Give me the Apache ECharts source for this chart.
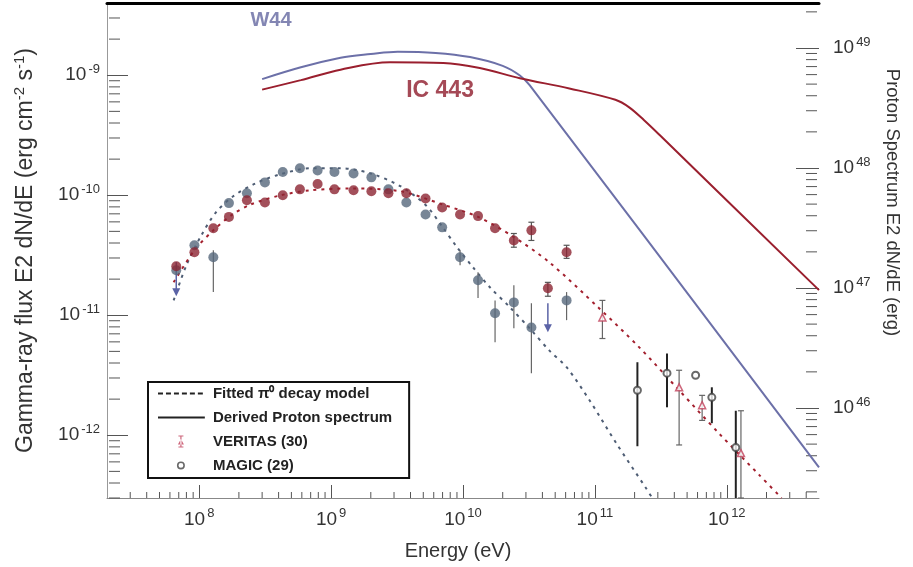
<!DOCTYPE html>
<html><head><meta charset="utf-8">
<script src="https://cdn.jsdelivr.net/npm/echarts@6/dist/echarts.min.js"></script>
<style>html,body{margin:0;padding:0;background:#fff}#c{width:913px;height:567px}</style>
</head><body><div id="c"></div>
<script>
// ---------------- data ----------------
// Derived proton spectra (right axis, erg) versus energy (eV)
const w44ProtonE   = [3.0e8, 5.9e8, 1.18e9, 2.0e9, 3.2e9, 6.2e9, 1.13e10, 2.0e10, 2.7e10, 3.2e10, 5.0e12];
const w44ProtonF   = [5.5e48, 6.9e48, 8.3e48, 8.9e48, 9.3e48, 9.1e48, 8.4e48, 7.1e48, 5.9e48, 4.9e48, 3.2e45];
const ic443ProtonE = [3.0e8, 5.9e8, 1.18e9, 2.8e9, 7.1e9, 1.34e10, 2.7e10, 6.4e10, 1.43e11, 1.82e11, 2.36e11, 3.07e11, 5.0e12];
const ic443ProtonF = [4.5e48, 5.4e48, 6.6e48, 7.6e48, 7.5e48, 6.8e48, 5.6e48, 4.6e48, 3.7e48, 3.2e48, 2.5e48, 1.9e48, 9.6e46];

// Fermi-LAT gamma-ray spectra (left axis, erg cm^-2 s^-1)
const latE      = [6.7e7, 9.2e7, 1.28e8, 1.68e8, 2.3e8, 3.15e8, 4.3e8, 5.8e8, 7.9e8, 1.06e9, 1.48e9, 2.02e9, 2.72e9, 3.72e9, 5.2e9, 6.95e9, 9.5e9, 1.3e10, 1.75e10, 2.43e10, 3.3e10, 4.4e10, 6.1e10];
const w44Flux   = [2.37e-11, 3.83e-11, 3.04e-11, 8.6e-11, 1.04e-10, 1.28e-10, 1.56e-10, 1.68e-10, 1.61e-10, 1.56e-10, 1.52e-10, 1.41e-10, 1.12e-10, 8.7e-11, 6.9e-11, 5.4e-11, 3.04e-11, 1.96e-11, 1.04e-11, 1.28e-11, 7.9e-12, null, 1.33e-11];
const ic443Flux = [2.56e-11, 3.35e-11, 5.3e-11, 6.6e-11, 9.1e-11, 8.7e-11, 1.0e-10, 1.12e-10, 1.24e-10, 1.12e-10, 1.1e-10, 1.08e-10, 1.04e-10, 1.04e-10, 9.4e-11, 7.9e-11, 6.9e-11, 6.7e-11, 5.3e-11, 4.2e-11, 5.1e-11, 1.68e-11, 3.35e-11];

// visible error bars  [energy, low, high]
const w44ErrE  = [1.28e8, 9.5e9, 1.3e10, 1.75e10, 2.43e10, 3.3e10, 6.1e10];
const w44ErrLo = [1.56e-11, 2.61e-11, 1.39e-11, 5.96e-12, 7.8e-12, 3.29e-12, 9.1e-12];
const w44ErrHi = [3.48e-11, 3.48e-11, 2.28e-11, 1.33e-11, 1.78e-11, 1.26e-11, 1.56e-11];
const ic443ErrE  = [2.43e10, 3.3e10, 4.4e10, 6.1e10];
const ic443ErrLo = [3.69e-11, 4.2e-11, 1.44e-11, 2.98e-11];
const ic443ErrHi = [4.8e-11, 5.96e-11, 1.88e-11, 3.83e-11];
// W44 upper limits (arrows): energy, start, tip
const w44UlE    = [6.7e7, 4.4e10];
const w44UlFrom = [2.77e-11, 1.26e-11];
const w44UlTo   = [1.44e-11, 7.2e-12];

// Fitted pi0-decay models
const w44ModelE   = [6.4e7, 8.0e7, 1.04e8, 1.34e8, 1.81e8, 2.69e8, 4.16e8, 7.0e8, 1.18e9, 1.99e9, 3.35e9, 5.2e9, 6.95e9, 9.0e9, 1.19e10, 1.6e10, 2.26e10, 3.3e10, 4.5e10, 6.1e10, 9.1e10, 1.45e11, 2.45e11, 2.72e11];
const w44ModelF   = [1.33e-11, 2.61e-11, 4.65e-11, 7.2e-11, 9.8e-11, 1.26e-10, 1.5e-10, 1.68e-10, 1.68e-10, 1.52e-10, 1.19e-10, 8.3e-11, 5.5e-11, 3.69e-11, 2.51e-11, 1.71e-11, 1.17e-11, 7.5e-12, 5.1e-12, 3.69e-12, 1.96e-12, 8.6e-13, 3.6e-13, 3.0e-13];
const ic443ModelE = [6.4e7, 9.2e7, 1.28e8, 1.75e8, 2.47e8, 4.16e8, 7.0e8, 1.4e9, 3.35e9, 6.95e9, 1.3e10, 2.38e10, 4.5e10, 1.08e11, 2.17e11, 4.35e11, 8.7e11, 1.75e12, 2.6e12];
const ic443ModelF = [1.88e-11, 3.48e-11, 5.1e-11, 6.8e-11, 8.4e-11, 1.0e-10, 1.1e-10, 1.14e-10, 1.08e-10, 8.4e-11, 6.6e-11, 4.55e-11, 2.77e-11, 1.14e-11, 5.4e-12, 2.37e-12, 1.04e-12, 4.7e-13, 3.0e-13];

// TeV data for IC 443
const veritasE  = [1.14e11, 4.35e11, 6.5e11, 1.28e12];
const veritasF  = [9.6e-12, 2.51e-12, 1.78e-12, 7.1e-13];
const veritasLo = [6.4e-12, 8.3e-13, 1.33e-12, 3.0e-13];
const veritasHi = [1.33e-11, 3.48e-12, 2.15e-12, 1.6e-12];
const magicE  = [2.1e11, 3.52e11, 5.8e11, 7.7e11, 1.17e12];
const magicF  = [2.37e-12, 3.29e-12, 3.16e-12, 2.07e-12, 7.9e-13];
const magicLo = [8.1e-13, 1.71e-12, 3.16e-12, 1.26e-12, 3.0e-13];
const magicHi = [4.06e-12, 4.8e-12, 3.16e-12, 2.51e-12, 1.6e-12];

// text annotations (energy, proton-axis value)
const annoText = ['W44', 'IC 443'];
const annoE    = [3.5e8, 6.7e9];
const annoP    = [1.70e49, 4.40e48];

// legend entries
const legendNames = ['Fitted π⁰ decay model', 'Derived Proton spectrum', 'VERITAS (30)', 'MAGIC (29)'];

// axis ranges
const xMin = 2e7, xMax = 5e12;
const yMin = 3e-13, yMax = 4e-9;
const y2Min = 1.778e45, y2Max = 2.371e49;

// ---------------- chart ----------------
const FONT = 'Liberation Sans, Arial, sans-serif';
const C_W44L = '#6c70a8', C_ICL = '#9a1f2e';
const C_W44P = '#56687c', C_ICP = '#8c2432';
const C_W44M = '#4e5d74', C_ICM = '#a3202e';

const zip = (a, b) => a.map((v, i) => [v, b[i]]).filter(p => p[1] != null);
const zip3 = (a, b, c) => a.map((v, i) => [v, b[i], c[i]]);

function powLabel(v) {
  const l = Math.log10(v), e = Math.round(l);
  if (Math.abs(l - e) > 1e-6) return '';
  return '10{s|' + (e < 0 ? '-' + (-e) : e) + '}';
}
const supRich = { s: { fontSize: 13, padding: [0, 0, 12, 2], fontFamily: FONT, color: '#333' } };
const supRichT = { s: { fontSize: 15, padding: [0, 0, 12, 0], fontFamily: FONT, color: '#333' } };

function minorVals(lo, hi) {
  const out = [];
  for (let e = Math.floor(Math.log10(lo)); e <= Math.ceil(Math.log10(hi)); e++)
    for (let k = 2; k <= 9; k++) { const v = k * Math.pow(10, e); if (v > lo && v < hi) out.push(v); }
  return out;
}

function errRender(color, cap, width) {
  return function (params, api) {
    const a = api.coord([api.value(0), api.value(1)]);
    const b = api.coord([api.value(0), api.value(2)]);
    const st = { stroke: color, lineWidth: width };
    const ch = [{ type: 'line', shape: { x1: a[0], y1: a[1], x2: b[0], y2: b[1] }, style: st }];
    if (cap > 0) {
      ch.push({ type: 'line', shape: { x1: a[0] - cap, y1: a[1], x2: a[0] + cap, y2: a[1] }, style: st });
      ch.push({ type: 'line', shape: { x1: b[0] - cap, y1: b[1], x2: b[0] + cap, y2: b[1] }, style: st });
    }
    return { type: 'group', children: ch };
  };
}
function arrowRender(color) {
  return function (params, api) {
    const a = api.coord([api.value(0), api.value(1)]);
    const b = api.coord([api.value(0), api.value(2)]);
    return { type: 'group', children: [
      { type: 'line', shape: { x1: a[0], y1: a[1], x2: b[0], y2: b[1] - 4 }, style: { stroke: color, lineWidth: 1.5 } },
      { type: 'polygon', shape: { points: [[b[0] - 4, b[1] - 8], [b[0] + 4, b[1] - 8], [b[0], b[1]]] }, style: { fill: color } }
    ] };
  };
}
function tickRender(axis, len) {
  return function (params, api) {
    const p = api.coord([api.value(0), api.value(1)]);
    let shape;
    if (axis === 'x') shape = { x1: p[0], y1: p[1], x2: p[0], y2: p[1] - len };
    else if (axis === 'yl') shape = { x1: p[0] + 2, y1: p[1], x2: p[0] + 2 + len, y2: p[1] };
    else shape = { x1: p[0] - 2, y1: p[1], x2: p[0] - 2 - len, y2: p[1] };
    return { type: 'line', shape, style: { stroke: '#555', lineWidth: 1 } };
  };
}

// legend icon shapes (50 x 14 box, corner dots keep the box size)
const BOX = 'M0,0h0.05v0.05h-0.05z M50,14h0.05v0.05h-0.05z ';
const ICON_DASH  = 'path://' + BOX + 'M0,6h5v2h-5z M8,6h5v2h-5z M16,6h5v2h-5z M24,6h5v2h-5z M32,6h5v2h-5z M40,6h5v2h-5z';
const ICON_SOLID = 'path://' + BOX + 'M0,6h47v2h-47z';
const ICON_VER   = 'path://' + BOX + 'M22.4,1h1.2v12h-1.2z M20,10 L26,10 L23,4.5 Z M20.5,1h5v1h-5z M20.5,12h5v1h-5z';
const ICON_MAG   = 'path://' + BOX + 'M19,7 a4,4 0 1,0 8,0 a4,4 0 1,0 -8,0 Z M20.6,7 a2.4,2.4 0 1,1 4.8,0 a2.4,2.4 0 1,1 -4.8,0 Z';

const chart = echarts.init(document.getElementById('c'), null, { renderer: 'canvas' });
const option = {
  animation: false,
  backgroundColor: '#fff',
  textStyle: { fontFamily: FONT },
  grid: { left: 107, right: 94, top: 3, bottom: 69, containLabel: false },
  legend: {
    data: [
      { name: legendNames[0], icon: ICON_DASH,  itemStyle: { color: '#222', borderWidth: 0 } },
      { name: legendNames[1], icon: ICON_SOLID, itemStyle: { color: '#222', borderWidth: 0 } },
      { name: legendNames[2], icon: ICON_VER,   itemStyle: { color: '#c0405a', borderWidth: 0 } },
      { name: legendNames[3], icon: ICON_MAG,   itemStyle: { color: '#444', borderWidth: 0 } }
    ],
    orient: 'vertical', left: 148, top: 382,
    itemWidth: 50, itemHeight: 14, itemGap: 9,
    padding: [4, 17, 5, 10],
    borderColor: '#111', borderWidth: 2,
    selectedMode: false, symbolKeepAspect: true,
    textStyle: { fontSize: 15, fontWeight: 'bold', color: '#222', fontFamily: FONT }
  },
  xAxis: [{
    type: 'log', min: xMin, max: xMax, position: 'bottom',
    axisLine: { lineStyle: { color: '#888', width: 1 } },
    axisTick: { inside: true, length: 13, lineStyle: { color: '#555' } },
    axisLabel: { formatter: powLabel, rich: supRich, fontSize: 19, color: '#333', margin: 9, showMinLabel: false, showMaxLabel: false, fontFamily: FONT },
    splitLine: { show: false },
    name: 'Energy (eV)', nameLocation: 'middle', nameGap: 43,
    nameTextStyle: { fontSize: 20, color: '#333', fontFamily: FONT, padding: [0, 10, 0, 0] }
  }, {
    type: 'log', min: xMin, max: xMax, position: 'top',
    axisLine: { lineStyle: { color: '#000', width: 3 } },
    axisTick: { show: false }, axisLabel: { show: false }, splitLine: { show: false }
  }],
  yAxis: [{
    type: 'log', min: yMin, max: yMax, position: 'left',
    axisLine: { show: true, lineStyle: { color: '#999', width: 1 } },
    axisTick: { inside: true, length: 21, lineStyle: { color: '#555' } },
    axisLabel: { formatter: powLabel, rich: supRich, fontSize: 19, color: '#333', margin: 7, showMinLabel: false, showMaxLabel: false, fontFamily: FONT },
    splitLine: { show: false },
    name: 'Gamma-ray flux E2 dN/dE (erg cm{s|-2} s{s|-1})',
    nameLocation: 'middle', nameRotate: 90, nameGap: 68,
    nameTextStyle: { fontSize: 23, color: '#333', fontFamily: FONT, rich: supRichT }
  }, {
    type: 'log', min: y2Min, max: y2Max, position: 'right',
    axisLine: { show: false },
    axisTick: { inside: true, length: 23, lineStyle: { color: '#555' } },
    axisLabel: { formatter: powLabel, rich: supRich, fontSize: 19, color: '#333', margin: 14, showMinLabel: false, showMaxLabel: false, fontFamily: FONT },
    splitLine: { show: false },
    name: 'Proton Spectrum E2 dN/dE (erg)',
    nameLocation: 'middle', nameRotate: -90, nameGap: 64,
    nameTextStyle: { fontSize: 18.5, color: '#333', fontFamily: FONT, padding: [0, 96, 0, 0] }
  }],
  series: [
    // proton spectra
    { name: 'W44 proton', type: 'line', yAxisIndex: 1, data: zip(w44ProtonE, w44ProtonF), smooth: 0.35,
      showSymbol: false, lineStyle: { color: C_W44L, width: 2 }, itemStyle: { color: C_W44L }, z: 3 },
    { name: 'IC443 proton', type: 'line', yAxisIndex: 1, data: zip(ic443ProtonE, ic443ProtonF), smooth: 0.35,
      showSymbol: false, lineStyle: { color: C_ICL, width: 2 }, itemStyle: { color: C_ICL }, z: 3 },
    // model curves
    { name: 'W44 model', type: 'line', data: zip(w44ModelE, w44ModelF), smooth: 0.3, showSymbol: false,
      lineStyle: { color: C_W44M, width: 2, type: [3, 5] }, z: 2 },
    { name: 'IC443 model', type: 'line', data: zip(ic443ModelE, ic443ModelF), smooth: 0.3, showSymbol: false,
      lineStyle: { color: C_ICM, width: 2, type: [3, 5] }, z: 2 },
    // error bars
    { name: 'W44 err', type: 'custom', data: zip3(w44ErrE, w44ErrLo, w44ErrHi), encode: { x: 0, y: [1, 2] },
      renderItem: errRender('#666', 0, 1.2), z: 4 },
    { name: 'IC443 err', type: 'custom', data: zip3(ic443ErrE, ic443ErrLo, ic443ErrHi), encode: { x: 0, y: [1, 2] },
      renderItem: errRender('#555', 3, 1.2), z: 4 },
    { name: 'W44 UL', type: 'custom', data: zip3(w44UlE, w44UlFrom, w44UlTo), encode: { x: 0, y: [1, 2] },
      renderItem: arrowRender('#5b63a6'), z: 4 },
    // data points
    { name: 'W44 LAT', type: 'scatter', data: zip(latE, w44Flux), symbol: 'circle', symbolSize: 10,
      itemStyle: { color: C_W44P }, z: 5 },
    { name: 'IC443 LAT', type: 'scatter', data: zip(latE, ic443Flux), symbol: 'circle', symbolSize: 10,
      itemStyle: { color: C_ICP }, z: 6 },
    { name: 'VERITAS err', type: 'custom', data: zip3(veritasE, veritasLo, veritasHi), encode: { x: 0, y: [1, 2] },
      renderItem: errRender('#666', 3, 1.2), z: 4 },
    { name: legendNames[2], type: 'scatter', data: zip(veritasE, veritasF), symbol: 'triangle', symbolSize: 7,
      itemStyle: { color: '#fff', borderColor: '#c0405a', borderWidth: 1.5 }, z: 6 },
    { name: 'MAGIC err', type: 'custom', data: zip3(magicE, magicLo, magicHi), encode: { x: 0, y: [1, 2] },
      renderItem: errRender('#222', 0, 2), z: 4 },
    { name: legendNames[3], type: 'scatter', data: zip(magicE, magicF), symbol: 'emptyCircle', symbolSize: 7,
      itemStyle: { color: '#444', borderColor: '#444', borderWidth: 1.2 }, z: 6 },
    // legend-only entries
    { name: legendNames[0], type: 'line', data: [], showSymbol: false, symbol: 'none',
      lineStyle: { color: '#222', width: 2, type: [4, 3] }, itemStyle: { color: '#222' } },
    { name: legendNames[1], type: 'line', data: [], showSymbol: false, symbol: 'none',
      lineStyle: { color: '#222', width: 2 }, itemStyle: { color: '#222' } },
    // minor ticks
    { name: 'xminor', type: 'custom', silent: true, data: minorVals(xMin, xMax).map(v => [v, yMin]),
      encode: { x: 0, y: 1 }, renderItem: tickRender('x', 6), z: 1 },
    { name: 'ylminor', type: 'custom', silent: true, data: minorVals(yMin, yMax).map(v => [xMin, v]),
      encode: { x: 0, y: 1 }, renderItem: tickRender('yl', 11), z: 1 },
    { name: 'yrminor', type: 'custom', silent: true, yAxisIndex: 1, data: minorVals(y2Min, y2Max).map(v => [xMax, v]),
      encode: { x: 0, y: 1 }, renderItem: tickRender('yr', 11), z: 1 },
    // annotations
    { name: 'labels', type: 'scatter', yAxisIndex: 1, silent: true, symbolSize: 1,
      itemStyle: { color: 'rgba(0,0,0,0)' },
      data: annoText.map((t, i) => ({ value: [annoE[i], annoP[i]], name: t,
        label: { show: true, position: 'inside', formatter: t, fontSize: i === 0 ? 20 : 23, fontWeight: 'bold', fontFamily: FONT,
                 color: i === 0 ? '#6468a0' : '#8e1c2c' } })), z: 7 }
  ]
};
chart.setOption(option);
</script>
</body></html>
